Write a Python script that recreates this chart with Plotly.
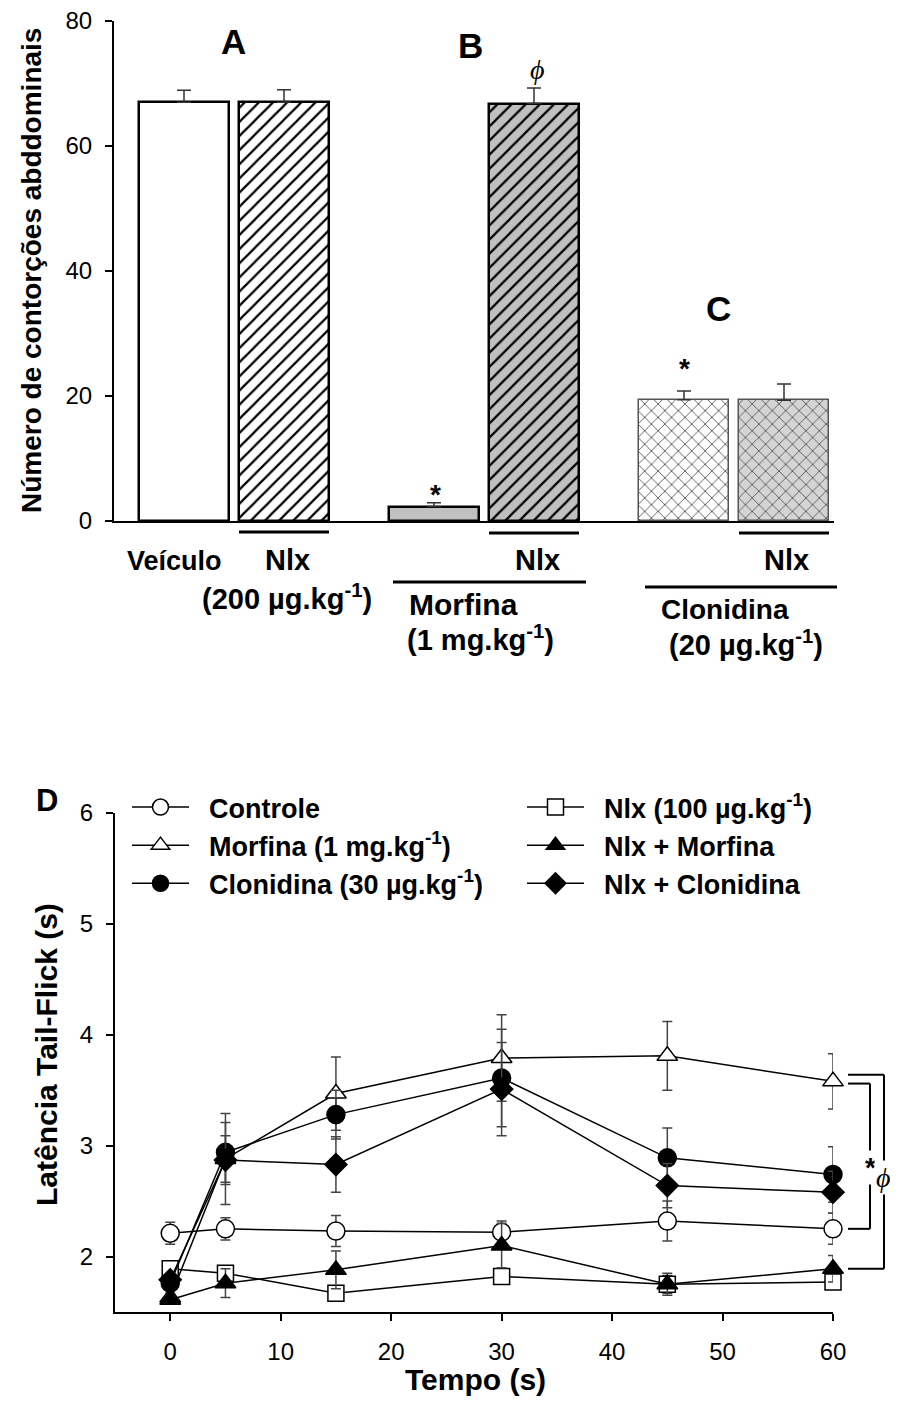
import plotly.graph_objects as go

# page body has an 8px margin; shift the figure's own coordinates to compensate
OFF = 8
W, H = 898 - OFF, 1403 - OFF

# ---------------- Data: top bar chart ----------------
bar_labels = ["Veículo", "Nlx", "Morfina", "Nlx + Morfina", "Clonidina", "Nlx + Clonidina"]
bar_pos = [0, 1, 2.5, 3.5, 5, 6]
bar_values = [67.0, 67.0, 2.3, 66.8, 19.4, 19.3]
bar_errors = [1.9, 2.0, 0.6, 2.5, 1.4, 2.6]

# ---------------- Data: bottom line chart ----------------
tempo = [0, 5, 15, 30, 45, 60]
controle = [2.21, 2.25, 2.23, 2.22, 2.32, 2.25]
controle_err = [0.10, 0.10, 0.14, 0.10, 0.18, 0.14]
morfina = [1.63, 2.88, 3.47, 3.79, 3.81, 3.58]
morfina_err = [0.04, 0.41, 0.33, 0.39, 0.31, 0.25]
clonidina = [1.76, 2.94, 3.28, 3.61, 2.89, 2.74]
clonidina_err = [0.05, 0.27, 0.22, 0.44, 0.27, 0.25]
nlx = [1.89, 1.85, 1.67, 1.82, 1.75, 1.77]
nlx_err = [0.04, 0.05, 0.03, 0.06, 0.08, 0.06]
nlx_morfina = [1.61, 1.76, 1.88, 2.10, 1.75, 1.89]
nlx_morfina_err = [0.03, 0.13, 0.17, 0.20, 0.10, 0.12]
nlx_clonidina = [1.79, 2.87, 2.83, 3.51, 2.64, 2.58]
nlx_clonidina_err = [0.05, 0.22, 0.25, 0.42, 0.20, 0.19]

FONT = "Liberation Sans, Arial, sans-serif"
SERIF = "Liberation Serif, Times New Roman, serif"
NB = "\u00a0\u00a0"


def px(x):
    return (x - OFF) / W


def py(y):
    return 1 - (y - OFF) / H


fig = go.Figure()

# ---------------- Bars ----------------
bar_styles = [
    dict(bg="white", fg="black", shape="", line="black", lw=2.5),
    dict(bg="white", fg="black", shape="/", line="black", lw=2.5),
    dict(bg="#c0c0c0", fg="#c0c0c0", shape="", line="black", lw=2.5),
    dict(bg="#c0c0c0", fg="black", shape="/", line="black", lw=2.5),
    dict(bg="white", fg="#222222", shape="x", line="#555555", lw=1.5),
    dict(bg="#d4d4d4", fg="#333333", shape="x", line="#555555", lw=1.5),
]
for i, st in enumerate(bar_styles):
    pattern = dict(shape=st["shape"], bgcolor=st["bg"], fgcolor=st["fg"],
                   size=10 if st["shape"] == "/" else 9.5,
                   solidity=0.22 if st["shape"] == "/" else 0.14,
                   fillmode="replace")
    fig.add_trace(go.Bar(
        x=[bar_pos[i]], y=[bar_values[i]], width=0.9, name=bar_labels[i],
        marker=dict(color=st["bg"], pattern=pattern,
                    line=dict(color=st["line"], width=st["lw"])),
        error_y=dict(type="data", array=[bar_errors[i]], arrayminus=[0],
                     symmetric=False, color="#333333", thickness=1.5, width=7),
        xaxis="x", yaxis="y", showlegend=False,
    ))

# ---------------- Lines ----------------
series = [
    ("Controle", controle, controle_err, "circle", 18, "white"),
    ("Nlx (100 µg.kg<sup>-1</sup>)", nlx, nlx_err, "square", 16, "white"),
    ("Morfina (1 mg.kg<sup>-1</sup>)", morfina, morfina_err, "triangle-up", 18, "white"),
    ("Nlx + Morfina", nlx_morfina, nlx_morfina_err, "triangle-up", 18, "black"),
    ("Clonidina (30 µg.kg<sup>-1</sup>)", clonidina, clonidina_err, "circle", 18, "black"),
    ("Nlx + Clonidina", nlx_clonidina, nlx_clonidina_err, "diamond", 17, "black"),
]
for name, vals, errs, sym, size, fill in series:
    fig.add_trace(go.Scatter(
        x=tempo, y=vals, name=NB + name, mode="lines+markers",
        line=dict(color="black", width=1.5),
        marker=dict(symbol=sym, size=size, color=fill,
                    line=dict(color="black", width=1.5)),
        error_y=dict(type="data", array=errs, color="#444444", thickness=1.5, width=5),
        xaxis="x2", yaxis="y2", cliponaxis=False,
    ))

axis_common = dict(showgrid=False, zeroline=False, linecolor="black", linewidth=2,
                   tickfont=dict(family=FONT, size=24, color="black"),
                   ticks="outside", tickcolor="black", tickwidth=1.5, ticklen=7,
                   automargin=False, ticklabeloverflow="allow")

fig.update_layout(
    width=W, height=H, autosize=False,
    margin=dict(l=0, r=0, t=0, b=0, autoexpand=False),
    paper_bgcolor="white", plot_bgcolor="white",
    font=dict(family=FONT, color="black"),
    bargap=0,
    xaxis=dict(domain=[px(114), px(834)], range=[-0.7, 6.5], anchor="y",
               showline=True, showticklabels=False, ticks="", showgrid=False,
               zeroline=False, linecolor="black", linewidth=2, automargin=False),
    yaxis=dict(domain=[py(521), py(21)], range=[0, 80], anchor="x",
               tickvals=[0, 20, 40, 60, 80], showline=True, ticklabelstandoff=8,
               **axis_common),
    xaxis2=dict(domain=[px(115), px(833)], range=[-5, 60], anchor="y2",
                tickvals=[0, 10, 20, 30, 40, 50, 60], showline=True, ticklabelstandoff=10,
                **axis_common),
    yaxis2=dict(domain=[py(1312), py(813)], range=[1.5, 6], anchor="x2",
                tickvals=[2, 3, 4, 5, 6], showline=True, ticklabelstandoff=8,
                **axis_common),
    legend=dict(orientation="h", x=px(127), y=py(783), xanchor="left", yanchor="top",
                entrywidth=323, entrywidthmode="pixels", itemwidth=57,
                font=dict(family=FONT, size=27, color="black", weight="bold"),
                bgcolor="rgba(0,0,0,0)", traceorder="normal", tracegroupgap=0),
)

ann = []


def text(x, y, s, size=26, bold=True, family=FONT, italic=False, angle=0, bg=None):
    if italic:
        s = "<i>" + s + "</i>"
    d = dict(x=px(x), y=py(y), xref="paper", yref="paper", text=s, showarrow=False,
             textangle=angle, xanchor="center", yanchor="middle",
             font=dict(family=family, size=size, color="black",
                       weight="bold" if bold else "normal"))
    if bg:
        d["bgcolor"] = bg
    ann.append(d)


# top chart texts
text(233, 42, "A", size=35)
text(470, 45, "B", size=35)
text(537, 70, "ϕ", size=28, bold=False, family=SERIF, italic=True)
text(718, 308, "C", size=35)
text(435, 494, "*", size=28)
text(684, 369, "*", size=28)
text(31, 271, "Número de contorções abddominais", size=28, angle=-90)

text(174, 561, "Veículo", size=27)
text(287, 560, "Nlx", size=29)
text(287, 597, "(200 µg.kg<sup>-1</sup>)", size=29)
text(537, 560, "Nlx", size=29)
text(464, 604, "Morfina", size=30)
text(480, 638, "(1 mg.kg<sup>-1</sup>)", size=29)
text(786, 560, "Nlx", size=29)
text(725, 609, "Clonidina", size=28)
text(746, 643, "(20 µg.kg<sup>-1</sup>)", size=29)

# bottom chart texts
text(47, 800, "D", size=31)
text(46, 1055, "Latência Tail-Flick (s)", size=30, angle=-90)
text(475, 1379, "Tempo (s)", size=30)
text(870, 1167, "*", size=28, bg="white")
text(883, 1177, "ϕ", size=28, bold=False, family=SERIF, italic=True, bg="white")

fig.update_layout(annotations=ann)

shapes = []
# underlines under Nlx bars (x in bar axis, y in paper)
for i, yy in [(1, 532), (3, 533), (5, 533)]:
    shapes.append(dict(type="line", xref="x", yref="paper",
                       x0=bar_pos[i] - 0.45, x1=bar_pos[i] + 0.45, y0=py(yy), y1=py(yy),
                       line=dict(color="black", width=3)))
# group lines
shapes.append(dict(type="line", xref="paper", yref="paper", x0=px(393), x1=px(586),
                   y0=py(582), y1=py(582), line=dict(color="black", width=3)))
shapes.append(dict(type="line", xref="paper", yref="paper", x0=px(645), x1=px(837),
                   y0=py(587), y1=py(587), line=dict(color="black", width=3)))

# significance brackets (y anchored to data at t=60)
xa, xb, xc = px(848), px(870), px(884)
inner_top = morfina[-1] - 0.02
inner_bot = controle[-1]
outer_top = morfina[-1] + 0.06
outer_bot = nlx_morfina[-1]
for (x0, x1, y0, y1) in [
    (xa, xb, inner_top, inner_top), (xb, xb, inner_top, inner_bot), (xa, xb, inner_bot, inner_bot),
    (xa, xc, outer_top, outer_top), (xc, xc, outer_top, outer_bot), (xa, xc, outer_bot, outer_bot),
]:
    shapes.append(dict(type="line", xref="paper", yref="y2", x0=x0, x1=x1, y0=y0, y1=y1,
                       line=dict(color="black", width=2), layer="below"))
fig.update_layout(shapes=shapes)

fig.write_html("out.html")
